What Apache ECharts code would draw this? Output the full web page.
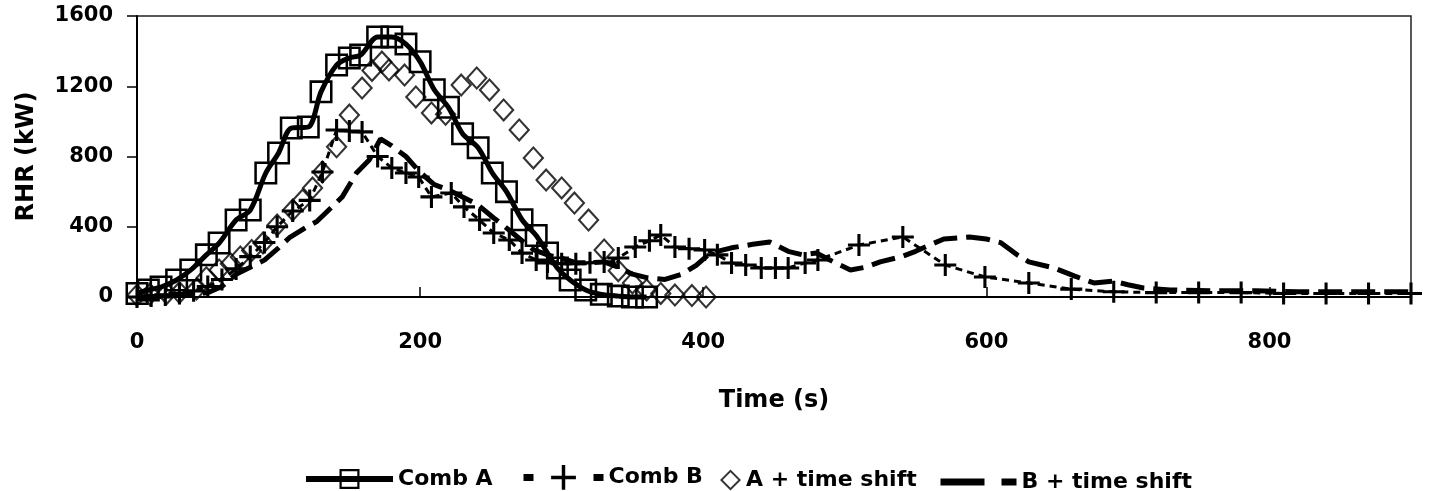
<!DOCTYPE html>
<html><head><meta charset="utf-8">
<script src="https://cdn.jsdelivr.net/npm/echarts@6/dist/echarts.min.js"></script>
<style>html,body{margin:0;padding:0;background:#fff}#c{width:1432px;height:491px}</style>
</head><body><div id="c"></div>
<script>
// ---- data (time in s, RHR in kW) ----
const combATime  = [0,8,17,28,38,49,58,70,80,91,100,109,121,130,141,150,158,170,180,190,200,210,220,230,241,251,261,272,282,290,297,306,317,328,340,350,360];
const combAValue = [20,40,57,97,154,240,307,438,495,706,820,962,968,1168,1321,1361,1378,1481,1481,1440,1340,1180,1080,930,850,706,600,440,350,250,165,97,40,15,5,0,0];

const combBTime  = [0,10,20,30,40,50,60,70,80,90,99,110,122,131,141,150,159,170,180,190,199,208,222,231,242,252,263,272,282,290,300,310,320,330,340,352,362,370,380,390,401,410,420,430,441,451,460,472,481,510,541,571,599,630,660,690,720,750,780,810,840,870,900];
const combBValue = [0,5,12,20,35,60,100,160,230,310,400,490,550,712,951,945,940,800,735,706,683,570,592,513,438,364,325,250,211,200,190,190,195,200,222,285,320,353,285,275,268,240,194,182,165,165,165,194,211,296,342,182,114,80,45,30,25,25,25,20,20,20,20];

const aShiftTime  = [0,9,21,30,42,49,58,66,73,81,89,99,110,117,124,131,141,150,159,166,173,178,189,197,208,218,229,240,249,259,270,280,289,300,309,319,330,340,350,360,370,380,392,402];
const aShiftValue = [10,15,20,25,45,110,154,190,228,265,307,410,495,552,620,712,855,1036,1190,1290,1338,1293,1264,1139,1048,1040,1207,1247,1179,1065,951,792,666,621,535,438,268,150,80,40,20,11,8,0];

const bShiftTime  = [0,20,40,50,60,70,80,90,100,108,120,127,136,145,155,164,172,180,190,200,210,220,230,240,252,263,272,280,290,300,310,320,330,340,350,360,373,385,395,405,420,435,447,460,470,480,492,504,515,525,540,550,560,570,588,600,610,622,630,648,662,676,690,700,711,730,760,790,820,850,880,900];
const bShiftValue = [0,5,15,25,60,130,170,210,280,340,400,430,500,570,706,780,900,860,800,710,640,610,570,530,450,380,320,270,240,220,195,194,200,170,130,110,100,130,180,250,280,300,313,260,240,250,200,154,170,200,230,260,296,330,342,330,310,239,200,165,120,80,90,70,51,40,35,35,30,30,30,30];

const xTicks = { min: 0, max: 900, interval: 200 };
const yTicks = { min: 0, max: 1600, interval: 400 };
const seriesNames = ['Comb A', 'Comb B', 'A + time shift', 'B + time shift'];

// ---- helpers ----
const zip = (t, v) => t.map((x, i) => [x, v[i]]);
const FONT = '"DejaVu Sans", Verdana, sans-serif';
const SQUARE = 'path://M0,0H100V100H0Z M11,11V89H89V11Z';
const DIAMOND = 'path://M50,0L100,50L50,100L0,50Z M50,13L13,50L50,87L87,50Z';
const PLUS = 'path://M0,43H100V57H0Z M43,0H57V100H43Z';
const legendText = { fontFamily: FONT, fontSize: 22, fontWeight: 'bold', color: '#000' };

const chart = echarts.init(document.getElementById('c'), null, { renderer: 'canvas' });
chart.setOption({
  animation: false,
  backgroundColor: '#fff',
  grid: { left: 137, right: 21, top: 16, bottom: 194, show: true, borderColor: '#222', borderWidth: 1.5, backgroundColor: 'transparent' },
  legend: [
    { data: [seriesNames[0]], left: 298, top: 463, itemWidth: 87, itemHeight: 25, selectedMode: false, lineStyle: { width: 6 }, textStyle: legendText },
    { data: [seriesNames[1]], left: 515, top: 460, itemWidth: 80, itemHeight: 31, selectedMode: false, lineStyle: { width: 7, type: [10, 60] }, textStyle: legendText },
    { data: [seriesNames[2]], left: 715, top: 464, itemWidth: 21, itemHeight: 26, selectedMode: false, textStyle: legendText },
    { data: [seriesNames[3]], left: 932, top: 466, itemWidth: 76, itemHeight: 20, selectedMode: false, lineStyle: { width: 7, type: [44, 17] }, itemStyle: { opacity: 0 }, textStyle: legendText }
  ],
  xAxis: {
    type: 'value', min: xTicks.min, max: xTicks.max, interval: xTicks.interval,
    name: 'Time (s)', nameLocation: 'middle', nameGap: 92,
    nameTextStyle: { fontFamily: FONT, fontSize: 24, fontWeight: 'bold', color: '#000' },
    axisLine: { show: true, lineStyle: { color: '#000', width: 2 } },
    axisTick: { show: true, inside: true, length: 10, lineStyle: { color: '#000', width: 1.5 } },
    axisLabel: { margin: 35, fontFamily: FONT, fontSize: 21, fontWeight: 'bold', color: '#000', showMaxLabel: false, formatter: v => String(v) },
    splitLine: { show: false }
  },
  yAxis: {
    type: 'value', min: yTicks.min, max: yTicks.max, interval: yTicks.interval,
    name: 'RHR (kW)', nameLocation: 'middle', nameGap: 98, nameRotate: 90,
    nameTextStyle: { fontFamily: FONT, fontSize: 24, fontWeight: 'bold', color: '#000' },
    axisLine: { show: true, lineStyle: { color: '#000', width: 2 } },
    axisTick: { show: true, inside: false, length: 10, lineStyle: { color: '#000', width: 1.5 } },
    axisLabel: { margin: 24, fontFamily: FONT, fontSize: 21, fontWeight: 'bold', color: '#000', formatter: v => String(v) },
    splitLine: { show: false }
  },
  series: [
    { name: seriesNames[0], type: 'line', data: zip(combATime, combAValue), smooth: 0.3, clip: false,
      symbol: SQUARE, symbolSize: 23, showAllSymbol: true,
      lineStyle: { color: '#000', width: 5 }, itemStyle: { color: '#000' } },
    { name: seriesNames[1], type: 'line', data: zip(combBTime, combBValue), clip: false,
      symbol: PLUS, symbolSize: 22, showAllSymbol: true,
      lineStyle: { color: '#000', width: 3, type: [7, 5] }, itemStyle: { color: '#000' } },
    { name: seriesNames[2], type: 'scatter', data: zip(aShiftTime, aShiftValue), clip: false,
      symbol: DIAMOND, symbolSize: [22, 24], itemStyle: { color: '#000' } },
    { name: seriesNames[3], type: 'line', data: zip(bShiftTime, bShiftValue), clip: false,
      symbol: 'none', lineStyle: { color: '#000', width: 5, type: [24, 9] }, itemStyle: { color: '#000' } }
  ]
});
</script>
</body></html>
